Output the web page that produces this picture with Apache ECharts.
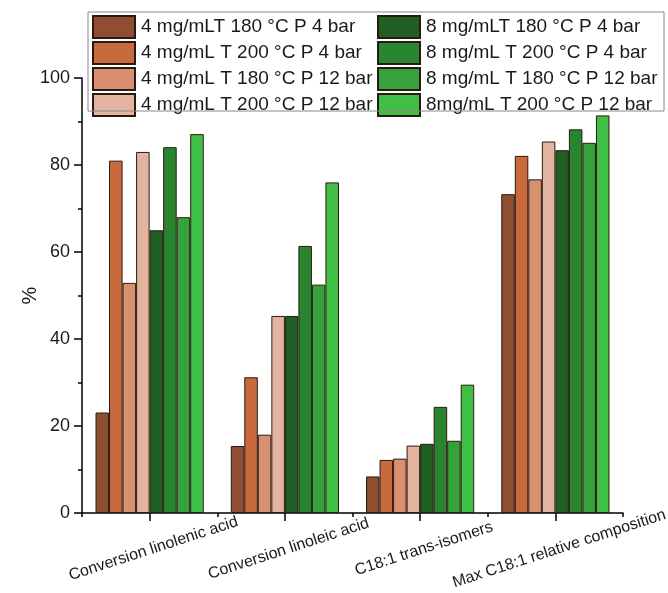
<!DOCTYPE html>
<html>
<head>
<meta charset="utf-8">
<script src="https://cdn.jsdelivr.net/npm/echarts@6/dist/echarts.min.js"></script>
<style>html,body{margin:0;padding:0;background:#fff}#c{width:668px;height:593px}</style>
</head>
<body>
<div id="c"></div>
<script>
const categories = ["Conversion linolenic acid", "Conversion linoleic acid", "C18:1 trans-isomers", "Max C18:1 relative composition"];
const seriesNames = [
  "4 mg/mLT 180 °C P 4 bar",
  "4 mg/mL T 200 °C P 4 bar",
  "4 mg/mL T 180 °C P 12 bar",
  "4 mg/mL T 200 °C P 12 bar",
  "8 mg/mLT 180 °C P 4 bar",
  "8 mg/mL T 200 °C P 4 bar",
  "8 mg/mL T 180 °C P 12 bar",
  "8mg/mL T 200 °C P 12 bar"
];
const s4_180_4 = [23.1, 15.4, 8.4, 73.3];
const s4_200_4 = [81.0, 31.2, 12.2, 82.1];
const s4_180_12 = [52.9, 18.0, 12.5, 76.7];
const s4_200_12 = [83.0, 45.3, 15.5, 85.4];
const s8_180_4 = [65.0, 45.3, 15.9, 83.4];
const s8_200_4 = [84.1, 61.4, 24.4, 88.2];
const s8_180_12 = [68.0, 52.5, 16.6, 85.1];
const s8_200_12 = [87.1, 76.0, 29.5, 91.4];
const yTicks = [0, 20, 40, 60, 80, 100];

const seriesData = [s4_180_4, s4_200_4, s4_180_12, s4_200_12, s8_180_4, s8_200_4, s8_180_12, s8_200_12];
const colors = ["#8f4e30", "#c86a3e", "#d8906f", "#e3b39f", "#1f5f23", "#2a8530", "#35a23b", "#3fbf46"];

const chart = echarts.init(document.getElementById('c'), null, {renderer: 'canvas'});
const font = "'Liberation Sans', Arial, sans-serif";
const legendBase = {
  orient: 'vertical', top: 15, icon: 'rect',
  itemWidth: 42, itemHeight: 22, itemGap: 2, padding: 0,
  textStyle: {fontFamily: font, fontSize: 19, lineHeight: 22, height: 22, color: '#1a1a1a', padding: [0, 0, 0, 1]}
};
const option = {
  animation: false,
  backgroundColor: '#fff',
  grid: {left: 82, right: 45, top: 78, bottom: 80, containLabel: false, outerBoundsMode: 'none'},
  legend: [
    Object.assign({data: seriesNames.slice(0, 4), left: 92}, legendBase),
    Object.assign({data: seriesNames.slice(4), left: 377}, legendBase)
  ],
  graphic: [
    {type: 'rect', shape: {x: 88, y: 12, width: 576, height: 99}, style: {fill: 'none', stroke: '#888', lineWidth: 1}, z: 100}
  ],
  xAxis: [
    {
      type: 'category', data: categories, boundaryGap: true,
      axisLine: {show: true, lineStyle: {color: '#000', width: 1.5}},
      axisTick: {show: true, alignWithLabel: true, length: 8, lineStyle: {color: '#000', width: 1.5}},
      axisLabel: {interval: 0, rotate: 18, align: 'center', verticalAlign: 'middle', margin: 37,
                  padding: [0, 0, 0, 8], hideOverlap: false,
                  fontFamily: font, fontSize: 16, color: '#1a1a1a'}
    },
    {
      type: 'category', data: categories, boundaryGap: true, position: 'bottom',
      axisLine: {show: false},
      axisTick: {show: true, interval: 0, length: 4, lineStyle: {color: '#000', width: 1.5}},
      axisLabel: {show: false}
    }
  ],
  yAxis: {
    type: 'value', min: 0, max: 100, interval: 20,
    name: '%', nameLocation: 'middle', nameGap: 42, nameRotate: 90, nameMoveOverlap: false,
    nameTextStyle: {fontFamily: font, fontSize: 20, color: '#1a1a1a'},
    axisLine: {show: true, lineStyle: {color: '#000', width: 1.5}},
    axisTick: {show: true, length: 8, lineStyle: {color: '#000', width: 1.5}},
    minorTick: {show: true, splitNumber: 2, length: 4, lineStyle: {color: '#000', width: 1.5}},
    splitLine: {show: false},
    axisLabel: {margin: 12, fontFamily: font, fontSize: 18, color: '#1a1a1a',
                formatter: v => yTicks.includes(v) ? String(v) : ''}
  },
  series: seriesData.map((d, i) => ({
    name: seriesNames[i], type: 'bar', data: d, xAxisIndex: 0,
    barGap: '0%', barCategoryGap: '20%',
    itemStyle: {color: colors[i], borderColor: '#2b1a12', borderWidth: 1}
  }))
};
chart.setOption(option);
</script>
</body>
</html>
